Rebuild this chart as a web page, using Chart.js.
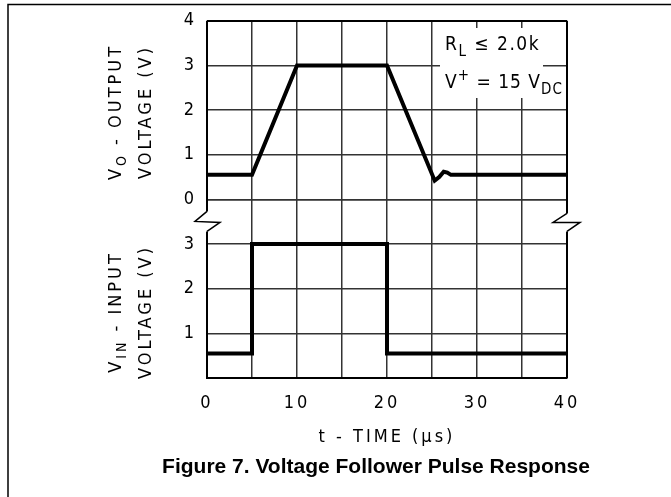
<!DOCTYPE html>
<html>
<head>
<meta charset="utf-8">
<script src="https://cdn.jsdelivr.net/npm/chart.js@4.4.1/dist/chart.umd.min.js"></script>
<style>
html, body { margin: 0; padding: 0; background: #fff; }
#wrap { width: 671px; height: 497px; }
</style>
</head>
<body>
<div id="wrap"><canvas id="pulse"></canvas></div>
<script>
// output voltage (upper panel), time in us
const tOut = [0, 5, 10, 20, 25.3, 25.8, 26.3, 26.7, 27.1, 40];
const vOut = [0.55, 0.55, 3, 3, 0.42, 0.5, 0.62, 0.6, 0.55, 0.55];
// input pulse (lower panel)
const tIn = [0, 5, 5, 20, 20, 40];
const vIn = [0.55, 0.55, 3, 3, 0.55, 0.55];
// tick labels that are printed
const xTicks = [0, 10, 20, 30, 40];
const outTicks = [0, 1, 2, 3, 4];
const inTicks = [1, 2, 3];

const NARROW = "'Liberation Sans Narrow', 'DejaVu Sans Condensed', sans-serif";
const GRID = '#333';

function toPts(xs, ys) {
  return xs.map((x, i) => ({x: x, y: ys[i]}));
}

// text with sub/superscripts, parts = [[text, 'n'|'sub'|'sup'], ...]
function richText(ctx, parts, x, y, size, align) {
  const small = Math.round(size * 0.8);
  const shift = {n: 0, sub: Math.round(size * 0.3), sup: -Math.round(size * 0.4)};
  const fontOf = k => (k === 'n' ? size : small) + 'px ' + NARROW;
  let total = 0;
  const widths = parts.map(p => {
    ctx.font = fontOf(p[1]);
    const w = ctx.measureText(p[0]).width;
    total += w;
    return w;
  });
  let cx = align === 'center' ? x - total / 2 : x;
  ctx.textAlign = 'left';
  ctx.textBaseline = 'alphabetic';
  parts.forEach((p, i) => {
    ctx.font = fontOf(p[1]);
    ctx.fillText(p[0], cx, y + shift[p[1]]);
    cx += widths[i];
  });
}

function vTitle(ctx, parts, x, y) {
  ctx.save();
  ctx.translate(x, y);
  ctx.rotate(-Math.PI / 2);
  richText(ctx, parts, 0, 0, 18, 'center');
  ctx.restore();
}

const decor = {
  id: 'decor',
  beforeDraw(chart) {
    chart.ctx.letterSpacing = '3px';
  },
  afterDraw(chart) {
    const ctx = chart.ctx;
    const a = chart.chartArea;
    const yb = chart.scales.yOut.bottom;
    ctx.save();
    ctx.strokeStyle = '#000';
    ctx.fillStyle = '#000';

    // outer frame (top and left)
    ctx.lineWidth = 1.5;
    ctx.beginPath();
    ctx.moveTo(8, 497);
    ctx.lineTo(8, 4.5);
    ctx.lineTo(671, 4.5);
    ctx.stroke();

    // axis lines with break marks
    ctx.lineWidth = 2;
    ctx.beginPath();
    ctx.moveTo(a.left, a.top);
    ctx.lineTo(a.left, yb + 12);
    ctx.moveTo(a.left, yb + 32);
    ctx.lineTo(a.left, a.bottom);
    ctx.moveTo(a.right, a.top);
    ctx.lineTo(a.right, yb + 14);
    ctx.moveTo(a.right, yb + 32);
    ctx.lineTo(a.right, a.bottom);
    ctx.stroke();
    ctx.lineWidth = 1.5;
    ctx.beginPath();
    ctx.moveTo(a.left, yb + 12);
    ctx.lineTo(a.left - 12, yb + 22);
    ctx.lineTo(a.left + 13, yb + 23);
    ctx.lineTo(a.left, yb + 32);
    ctx.moveTo(a.right, yb + 14);
    ctx.lineTo(a.right - 14, yb + 23);
    ctx.lineTo(a.right + 13, yb + 23);
    ctx.lineTo(a.right, yb + 32);
    ctx.stroke();

    // condition box
    ctx.fillStyle = '#fff';
    ctx.fillRect(440, 28, 103, 70);
    ctx.fillStyle = '#000';
    ctx.letterSpacing = '1.5px';
    richText(ctx, [['R', 'n'], ['L', 'sub'], [' \u2264 2.0k', 'n']], 445, 50, 19, 'left');
    ctx.letterSpacing = '1px';
    richText(ctx, [['V', 'n'], ['+', 'sup'], [' = 15 V', 'n'], ['DC', 'sub']], 445, 88, 19, 'left');

    // y titles
    ctx.letterSpacing = '3px';
    vTitle(ctx, [['V', 'n'], ['O', 'sub'], [' - OUTPUT', 'n']], 121, 112);
    vTitle(ctx, [['VOLTAGE (V)', 'n']], 151, 112);
    vTitle(ctx, [['V', 'n'], ['IN', 'sub'], [' - INPUT', 'n']], 121, 312);
    vTitle(ctx, [['VOLTAGE (V)', 'n']], 151, 312);

    // caption
    ctx.letterSpacing = '0px';
    ctx.font = "bold 21px 'Liberation Sans', Arial, sans-serif";
    ctx.textAlign = 'center';
    ctx.textBaseline = 'middle';
    ctx.fillText('Figure 7. Voltage Follower Pulse Response', 376, 467);
    ctx.restore();
  }
};

const tickFont = {family: NARROW, size: 18};

new Chart(document.getElementById('pulse'), {
  type: 'line',
  data: {
    datasets: [
      { label: 'VIN', data: toPts(tIn, vIn), yAxisID: 'yIn', borderColor: '#000', borderWidth: 4,
        pointRadius: 0, borderJoinStyle: 'miter', tension: 0 },
      { label: 'VO', data: toPts(tOut, vOut), yAxisID: 'yOut', borderColor: '#000', borderWidth: 4,
        pointRadius: 0, borderJoinStyle: 'miter', tension: 0 }
    ]
  },
  options: {
    responsive: true,
    maintainAspectRatio: false,
    animation: false,
    layout: { padding: { left: 0, right: 104, top: 19, bottom: 0 } },
    plugins: { legend: { display: false }, tooltip: { enabled: false } },
    scales: {
      x: {
        type: 'linear', min: 0, max: 40,
        afterFit: s => { s.height = 119; },
        ticks: { stepSize: 5, padding: 15, color: '#000', font: tickFont, maxRotation: 0,
          callback: v => xTicks.includes(v) ? v : '' },
        grid: { drawTicks: false, lineWidth: 1.5,
          color: c => (c.tick && (c.tick.value === 0 || c.tick.value === 40)) ? 'rgba(0,0,0,0)' : GRID },
        border: { display: true, color: '#000', width: 2 },
        title: { display: true, text: 't - TIME (\u03bcs)', color: '#000', font: tickFont,
          padding: { top: 0, bottom: 49 } }
      },
      yIn: {
        type: 'linear', position: 'left', stack: 'v', stackWeight: 1, min: 0, max: 4,
        afterFit: s => { s.width = 207; },
        ticks: { stepSize: 1, padding: 10, color: '#000', font: tickFont,
          callback: v => inTicks.includes(v) ? v : '' },
        grid: { drawTicks: false, lineWidth: 1.5, color: GRID },
        border: { display: false }
      },
      yOut: {
        type: 'linear', position: 'left', stack: 'v', stackWeight: 1, min: 0, max: 4,
        afterFit: s => { s.width = 207; },
        ticks: { stepSize: 1, padding: 10, color: '#000', font: tickFont,
          callback: v => outTicks.includes(v) ? v : '' },
        grid: { drawTicks: false, color: c => (c.tick && c.tick.value === 4) ? '#000' : GRID,
          lineWidth: c => (c.tick && c.tick.value === 4) ? 2 : 1.5 },
        border: { display: false }
      }
    }
  },
  plugins: [decor]
});
</script>
</body>
</html>
